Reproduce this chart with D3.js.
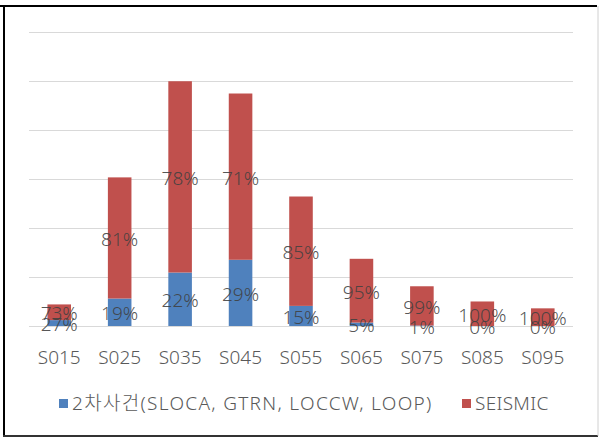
<!DOCTYPE html>
<html>
<head>
<meta charset="utf-8">
<script src="https://cdn.jsdelivr.net/npm/d3@7"></script>
<style>
  html, body { margin: 0; padding: 0; background: #fff; }
  svg { display: block; }
  text { font-family: "Noto Sans", "Noto Sans CJK KR", sans-serif; font-weight: 300; }
</style>
</head>
<body>
<svg id="chart" width="604" height="443"></svg>
<script>
const categories = ["S015","S025","S035","S045","S055","S065","S075","S085","S095"];
const secondary = [0.12, 0.56, 1.09, 1.35, 0.41, 0.07, 0.01, 0, 0];
const seismic   = [0.32, 2.47, 3.90, 3.39, 2.23, 1.30, 0.80, 0.50, 0.36];
const secondaryLabels = ["27%","19%","22%","29%","15%","5%","1%","0%","0%"];
const seismicLabels   = ["73%","81%","78%","71%","85%","95%","99%","100%","100%"];
const yTicks = [0,1,2,3,4,5,6];
const seriesNames = ["2차사건(SLOCA, GTRN, LOCCW, LOOP)", "SEISMIC"];
const colors = ["#4F81BD", "#C0504D"];

const svg = d3.select("#chart");

// frame
svg.append("line").attr("x1",0).attr("x2",597).attr("y1",6).attr("y2",6).attr("stroke","#000").attr("stroke-width",2);
svg.append("line").attr("x1",4).attr("x2",4).attr("y1",5).attr("y2",437).attr("stroke","#000").attr("stroke-width",2);
svg.append("line").attr("x1",3).attr("x2",598).attr("y1",436).attr("y2",436).attr("stroke","#333").attr("stroke-width",2);
svg.append("line").attr("x1",598).attr("x2",598).attr("y1",6).attr("y2",436).attr("stroke","#d0d0d0").attr("stroke-width",1);

const x = d3.scaleBand().domain(categories).range([29, 573]).paddingInner(0.61).paddingOuter(0.305);
const y = d3.scaleLinear().domain([0, 6]).range([326, 31.7]);

// gridlines
svg.append("g").selectAll("line").data(yTicks).join("line")
  .attr("x1", 29).attr("x2", 573)
  .attr("y1", d => Math.round(y(d)) + 0.5).attr("y2", d => Math.round(y(d)) + 0.5)
  .attr("stroke", "#d9d9d9").attr("stroke-width", 1);

const rows = categories.map((c, i) => ({cat: c, s0: secondary[i], s1: seismic[i], l0: secondaryLabels[i], l1: seismicLabels[i]}));
const stack = d3.stack().keys(["s0","s1"])(rows);

const g = svg.append("g");
stack.forEach((layer, li) => {
  g.append("g").selectAll("rect").data(layer).join("rect")
    .attr("x", d => x(d.data.cat))
    .attr("width", x.bandwidth())
    .attr("y", d => y(d[1]))
    .attr("height", d => y(d[0]) - y(d[1]))
    .attr("fill", colors[li]);
});

// data labels
stack.forEach((layer, li) => {
  g.append("g").selectAll("text").data(layer).join("text")
    .attr("x", d => x(d.data.cat) + x.bandwidth() / 2)
    .attr("y", d => (y(d[0]) + y(d[1])) / 2 + 1)
    .attr("text-anchor", "middle")
    .attr("dominant-baseline", "central")
    .attr("font-size", 19)
    .attr("fill", "#404040")
    .attr("fill-opacity", 0.9)
    .text(d => li === 0 ? d.data.l0 : d.data.l1);
});

// x axis labels
const xAxis = d3.axisBottom(x).tickSize(0).tickPadding(0);
const ax = svg.append("g").attr("transform", "translate(0,326)").call(xAxis);
ax.select(".domain").remove();
ax.selectAll("text")
  .attr("y", 38)
  .attr("dy", 0)
  .attr("font-size", 19)
  .attr("font-family", "'Noto Sans', 'Noto Sans CJK KR', sans-serif")
  .attr("font-weight", 300)
  .attr("fill", "#595959");

// legend
const legend = svg.append("g");
const legendItems = [
  {x: 59, name: seriesNames[0], c: colors[0], ls: 1.3},
  {x: 462, name: seriesNames[1], c: colors[1], ls: 0.3}
];
legendItems.forEach(it => {
  legend.append("rect").attr("x", it.x).attr("y", 399).attr("width", 9).attr("height", 9).attr("fill", it.c);
  legend.append("text").attr("x", it.x + 13).attr("y", 410).attr("font-size", 19)
    .attr("letter-spacing", it.ls).attr("fill", "#595959").text(it.name);
});
</script>
</body>
</html>
